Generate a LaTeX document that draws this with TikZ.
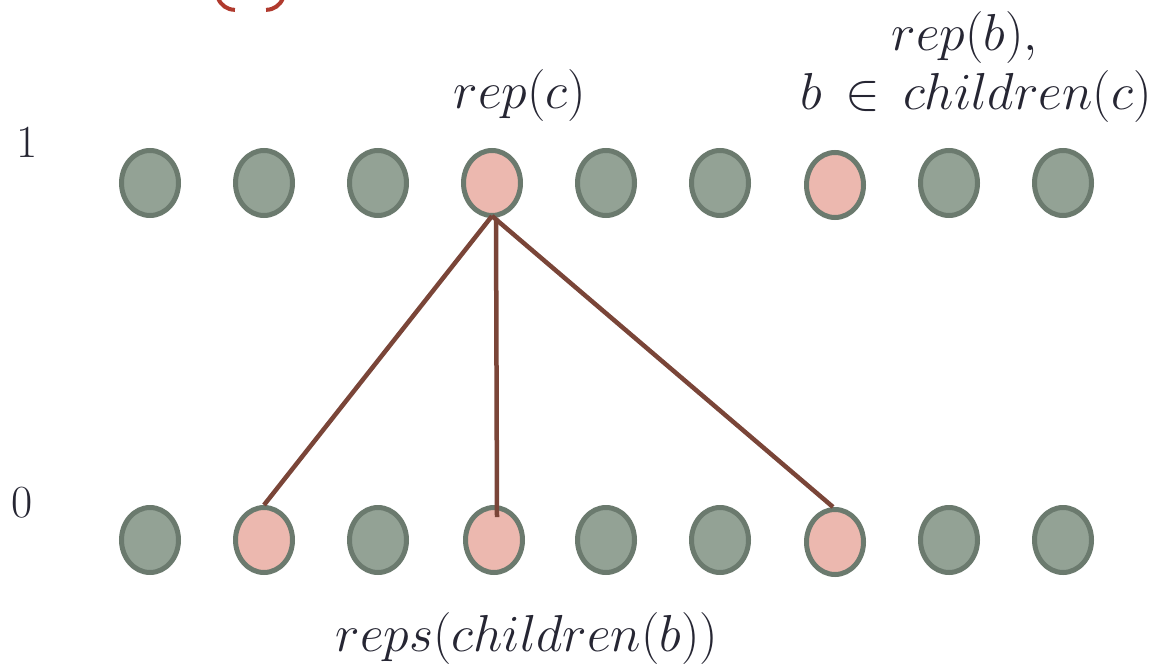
\RequirePackage{fix-cm}
\documentclass[tikz,border=0pt]{standalone}
\usetikzlibrary{shapes.geometric}
\definecolor{gfill}{HTML}{93A295}
\definecolor{gline}{HTML}{6B7A6E}
\definecolor{pfill}{HTML}{ECB8AF}
\definecolor{edge}{HTML}{7A4538}
\definecolor{tred}{HTML}{B03A2E}
\definecolor{txt}{HTML}{262633}
\tikzset{
  gnode/.style={ellipse, draw=gline, fill=gfill, line width=5pt, minimum width=57pt, minimum height=65pt, inner sep=0pt},
  pnode/.style={gnode, fill=pfill},
  conn/.style={draw=edge, line width=4.5pt},
  lbl/.style={text=txt, font=\fontsize{52}{60}\selectfont, inner sep=0pt},
  num/.style={text=txt, font=\fontsize{46}{52}\selectfont, inner sep=0pt},
}
\begin{document}
\begin{tikzpicture}[x=1pt,y=-1pt]
\useasboundingbox (0,0) rectangle (1153,664);
% red partial brackets at the top
\draw[tred, line width=4pt] (218,-2) arc[start angle=200, end angle=270, x radius=18pt, y radius=18pt] coordinate (pa);
\draw[tred, line width=4pt] (283,-2) arc[start angle=-20, end angle=-90, x radius=18pt, y radius=18pt] coordinate (pb);
% level labels
\node[num] (l1) at (27,142) {1};
\node[num] (l0) at (22,503) {0};
% top row
\foreach \i/\x in {0/150,1/264,2/378,4/606,5/720,7/949,8/1063}
  \node[gnode] (t\i) at (\x,183) {};
\node[pnode] (t3) at (492,183) {};
\node[pnode] (t6) at (835,185) {};
% bottom row
\foreach \i/\x in {0/150,2/378,4/606,5/720,7/949,8/1063}
  \node[gnode] (b\i) at (\x,540) {};
\node[pnode] (b1) at (264,540) {};
\node[pnode] (b3) at (494,540) {};
\node[pnode] (b6) at (835,542) {};
% connectors
\coordinate (top) at ([yshift=2pt]t3.south);
\coordinate (bmid) at ([yshift=-12pt]b3.north);
\draw[conn] (top) -- (b1.north);
\draw[conn] ([xshift=4pt]t3.south) -- ([xshift=3pt]bmid);
\draw[conn] (top) -- ([xshift=-2pt]b6.north);
% labels
\node[lbl] (rc) at (520,95) {$rep(c)$};
\node[lbl] (rb) at (965,38) {$rep(b),$};
\node[lbl] (ch) at (976,96) {$b\mkern3mu\in\mkern3mu children(c)$};
\node[lbl] (rs) at (527,638) {$reps(children(b))$};
\end{tikzpicture}
\end{document}
